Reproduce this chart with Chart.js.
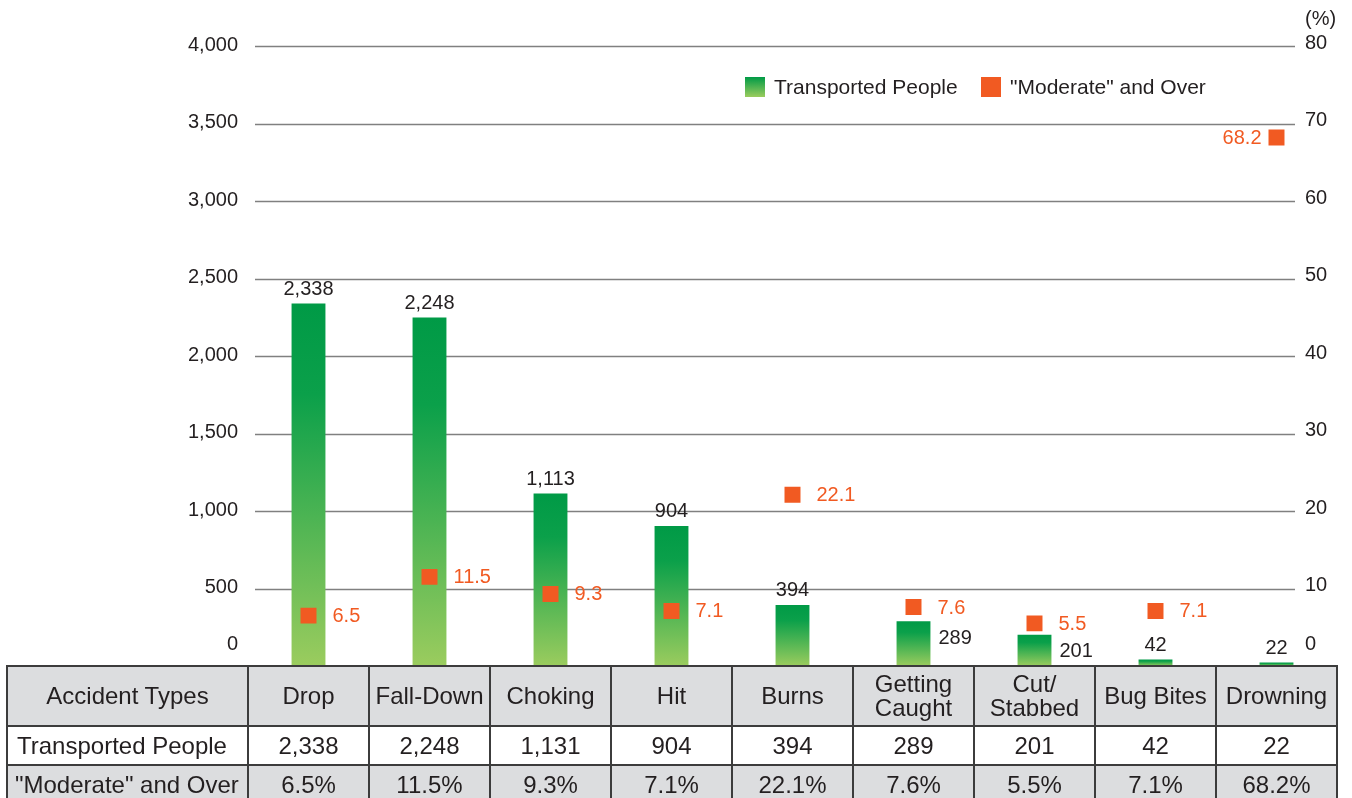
<!DOCTYPE html>
<html>
<head>
<meta charset="utf-8">
<script src="https://cdn.jsdelivr.net/npm/chart.js@4"></script>
<style>
  body { margin: 0; background: #fff; font-family: "Liberation Sans", Arial, sans-serif; color: #231f20; overflow: hidden; }
  #wrap { position: absolute; left: 0; top: 0; width: 1352px; height: 666px; }
  .legend { position: absolute; top: 77px; font-size: 21px; line-height: 20px; display: flex; align-items: center; }
  .legend span.box { display: inline-block; width: 20px; height: 20px; margin-right: 9px; }
  #pct { position: absolute; left: 1305px; top: 7px; font-size: 20px; }
  table { position: absolute; left: 6px; top: 665px; border-collapse: collapse; font-size: 24px; }
  td { border: 2px solid #3c3c3c; text-align: center; padding: 0; background: #dcdddf; white-space: nowrap; }
  tr.head td { height: 58px; line-height: 24px; }
  tr.r2 td { height: 37px; background: #fff; }
  tr.r3 td { height: 37px; }
</style>
</head>
<body>
<div id="wrap"><canvas id="chart"></canvas></div>
<div class="legend" style="left:745px"><span class="box" style="background:linear-gradient(#009a46,#9bcc5e)"></span>Transported People</div>
<div class="legend" style="left:981px"><span class="box" style="background:#f15a22"></span>"Moderate" and Over</div>
<div id="pct">(%)</div>
<table id="tbl"></table>
<script>
const categories = ["Drop", "Fall-Down", "Choking", "Hit", "Burns", "Getting Caught", "Cut/Stabbed", "Bug Bites", "Drowning"];
const headerLines = [["Drop"], ["Fall-Down"], ["Choking"], ["Hit"], ["Burns"], ["Getting", "Caught"], ["Cut/", "Stabbed"], ["Bug Bites"], ["Drowning"]];
const transported = [2338, 2248, 1113, 904, 394, 289, 201, 42, 22];
const transportedTable = [2338, 2248, 1131, 904, 394, 289, 201, 42, 22];
const moderate = [6.5, 11.5, 9.3, 7.1, 22.1, 7.6, 5.5, 7.1, 68.2];
const leftTicks = [0, 500, 1000, 1500, 2000, 2500, 3000, 3500, 4000];
const rightTicks = [0, 10, 20, 30, 40, 50, 60, 70, 80];

const fmt = n => n.toLocaleString("en-US");

// table
const tbl = document.getElementById("tbl");
let html = '<tr class="head"><td style="width:239px">Accident Types</td>';
headerLines.forEach(l => { html += '<td style="width:119px">' + l.join("<br>") + "</td>"; });
html += '</tr><tr class="r2"><td style="text-align:left;padding-left:9px">Transported People</td>';
transportedTable.forEach(v => { html += "<td>" + fmt(v) + "</td>"; });
html += '</tr><tr class="r3"><td style="text-align:left;padding-left:7px">"Moderate" and Over</td>';
moderate.forEach(v => { html += "<td>" + v.toFixed(1) + "%</td>"; });
html += "</tr>";
tbl.innerHTML = html;

const sideLabels = [5, 6]; // bar values drawn beside the bar instead of above

const overlay = {
  id: "overlay",
  beforeDatasetsDraw(chart) {
    const ctx = chart.ctx;
    const y = chart.scales.y, y2 = chart.scales.y2;
    ctx.save();
    ctx.strokeStyle = "#808080";
    ctx.lineWidth = 1.5;
    leftTicks.forEach(v => {
      if (v === 0) return;
      const py = Math.round(y.getPixelForValue(v)) + 0.5;
      ctx.beginPath();
      ctx.moveTo(255, py);
      ctx.lineTo(1295, py);
      ctx.stroke();
    });
    ctx.font = "20px 'Liberation Sans', Arial, sans-serif";
    ctx.fillStyle = "#231f20";
    ctx.textBaseline = "middle";
    ctx.textAlign = "right";
    leftTicks.forEach(v => {
      const py = y.getPixelForValue(v) - (v === 0 ? 22 : 1);
      ctx.fillText(fmt(v), 238, py);
    });
    ctx.textAlign = "left";
    rightTicks.forEach(v => {
      const py = y2.getPixelForValue(v) - (v === 0 ? 22 : 3);
      ctx.fillText(String(v), 1305, py);
    });
    ctx.restore();
  },
  afterDatasetsDraw(chart) {
    const ctx = chart.ctx;
    const bars = chart.getDatasetMeta(1).data;
    const pts = chart.getDatasetMeta(0).data;
    ctx.save();
    ctx.font = "20px 'Liberation Sans', Arial, sans-serif";
    bars.forEach((b, i) => {
      ctx.fillStyle = "#231f20";
      if (sideLabels.includes(i)) {
        ctx.textAlign = "left";
        ctx.textBaseline = "middle";
        ctx.fillText(fmt(transported[i]), b.x + b.width / 2 + 8, b.y + 17);
      } else {
        ctx.textAlign = "center";
        ctx.textBaseline = "bottom";
        ctx.fillText(fmt(transported[i]), b.x, b.y - 4);
      }
    });
    ctx.fillStyle = "#f15a22";
    ctx.textBaseline = "middle";
    pts.forEach((p, i) => {
      if (i === pts.length - 1) {
        ctx.textAlign = "right";
        ctx.fillText(moderate[i].toFixed(1), p.x - 15, p.y + 1);
      } else {
        ctx.textAlign = "left";
        ctx.fillText(moderate[i].toFixed(1), p.x + 24, p.y + 1);
      }
    });
    ctx.restore();
  }
};

function barGradient(context) {
  const chart = context.chart;
  if (!chart.chartArea || context.type !== "data") return "#4caf50";
  const y = chart.scales.y;
  const top = y.getPixelForValue(context.raw);
  const bottom = y.getPixelForValue(0);
  const g = chart.ctx.createLinearGradient(0, top, 0, bottom);
  g.addColorStop(0, "#009a46");
  g.addColorStop(0.25, "#0ba04a");
  g.addColorStop(1, "#9bcc5e");
  return g;
}

new Chart(document.getElementById("chart"), {
  data: {
    labels: categories,
    datasets: [
      {
        type: "line",
        label: '"Moderate" and Over',
        data: moderate,
        yAxisID: "y2",
        showLine: false,
        pointStyle: "rect",
        pointRadius: 11.3,
        pointHoverRadius: 11.3,
        pointBackgroundColor: "#f15a22",
        pointBorderWidth: 0,
        order: 0
      },
      {
        type: "bar",
        label: "Transported People",
        data: transported,
        yAxisID: "y",
        backgroundColor: barGradient,
        categoryPercentage: 1,
        barPercentage: 0.28,
        order: 1
      }
    ]
  },
  options: {
    responsive: true,
    maintainAspectRatio: false,
    animation: false,
    layout: { autoPadding: false, padding: { left: 248, right: 15, top: 46, bottom: 0 } },
    plugins: { legend: { display: false }, tooltip: { enabled: false } },
    scales: {
      x: { display: false, offset: true },
      y: { display: false, min: 0, max: 4000 },
      y2: { display: false, min: 0, max: 80 }
    }
  },
  plugins: [overlay]
});
</script>
</body>
</html>
